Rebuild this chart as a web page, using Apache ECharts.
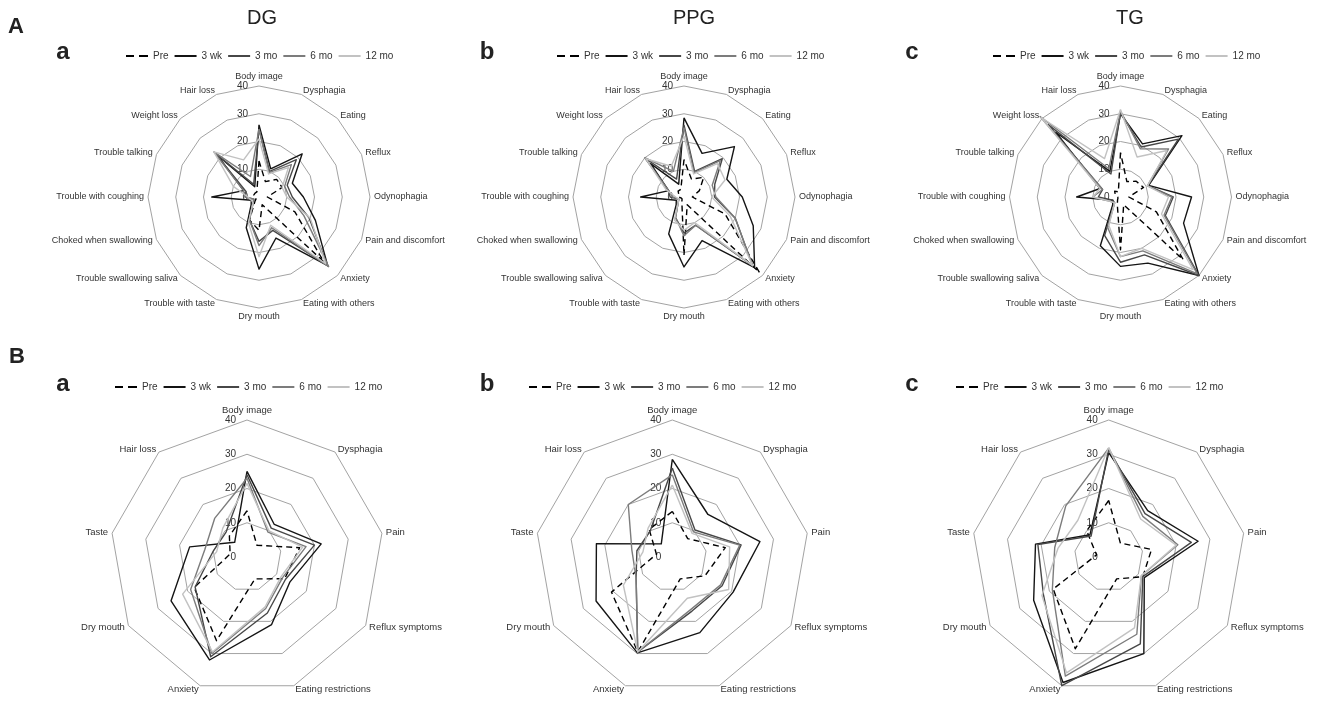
<!DOCTYPE html>
<html><head><meta charset="utf-8">
<script src="https://cdn.jsdelivr.net/npm/echarts@6/dist/echarts.min.js"></script>
<style>html,body{margin:0;padding:0;background:#fff}#c{width:1320px;height:701px}</style>
</head><body><div id="c"></div><script>
// ---------- categories / labels ----------
const seriesNames = ['Pre', '3 wk', '3 mo', '6 mo', '12 mo'];
const groupTitles = ['DG', 'PPG', 'TG'];
const panelLetters = ['a', 'b', 'c'];
const catsA = ['Body image','Dysphagia','Eating','Reflux','Odynophagia','Pain and discomfort','Anxiety','Eating with others','Dry mouth','Trouble with taste','Trouble swallowing saliva','Choked when swallowing','Trouble with coughing','Trouble talking','Weight loss','Hair loss'];
const catsB = ['Body image','Dysphagia','Pain','Reflux symptoms','Eating restrictions','Anxiety','Dry mouth','Taste','Hair loss'];
const tickLabels = ['0','10','20','30','40'];

// ---------- A (16 items), clockwise from top ----------
const A_DG_pre  = [13, 6, 9, 9, 3, 14, 33, 3, 12, 9, 2, 1, 1, 2, 2, 2];
const A_DG_3wk  = [26, 11, 22, 13, 16, 22, 35, 16, 26, 12, 4, 3, 17, 6, 21, 4];
const A_DG_3mo  = [24.5, 10, 19, 11, 12, 19.5, 35, 13, 16, 9, 3, 2, 5, 5, 22, 5];
const A_DG_6mo  = [24.5, 9.5, 16.5, 10, 11, 17.5, 35.5, 12, 17.5, 9, 3, 2, 5, 6, 23, 8];
const A_DG_12mo = [21, 9, 15, 9, 10, 20, 34, 11, 21.5, 10, 3, 3, 4, 10, 23, 14.5];

const A_PPG_pre  = [13.5, 7, 10, 6, 3, 16, 38.5, 3, 21, 2, 1, 1, 2, 2, 3, 3];
const A_PPG_3wk  = [28.5, 17, 25.7, 16.7, 21, 27, 36, 17, 25.2, 14.4, 4, 3, 15.6, 6, 17, 5];
const A_PPG_3mo  = [26, 10, 19.5, 12, 11, 20, 35, 11, 13, 8, 3, 2, 5, 6, 19.5, 7];
const A_PPG_6mo  = [25, 9.5, 18.5, 11, 11.5, 20, 35, 11, 14, 8, 3, 2, 4, 6, 20, 10];
const A_PPG_12mo = [22, 9, 17, 16, 10, 18, 35, 10, 12, 9, 3, 2, 3, 7, 19.5, 12];

const A_TG_pre  = [16, 6, 8, 9, 3, 14, 32, 3, 19, 3, 1.5, 1, 1, 2, 3, 2];
const A_TG_3wk  = [30, 20.7, 31.3, 11, 25.6, 24.6, 40, 25.8, 25, 19, 4, 3, 15.8, 8, 33, 10];
const A_TG_3mo  = [30.5, 19.5, 29.5, 10.7, 19, 17.5, 40, 22.6, 23.5, 15, 3, 3, 8, 7, 37, 9];
const A_TG_6mo  = [31, 18.8, 24.5, 10.5, 18.5, 17, 39, 21, 21.5, 12, 3, 4, 10, 7, 41, 11];
const A_TG_12mo = [31.5, 15.6, 23.7, 10.5, 17.3, 16, 37, 20, 21.5, 11, 3, 4, 10, 8, 40.5, 15];

// ---------- B (9 items), clockwise from top ----------
const B_DG_pre  = [13.5, 4.5, 15.6, 12.7, 6.8, 26, 17.8, 5, 8];
const B_DG_3wk  = [25, 12.4, 22, 14.5, 21, 32, 25.6, 17, 5.6];
const B_DG_3mo  = [24, 11, 20, 13, 17.4, 31, 17.5, 10, 9.5];
const B_DG_6mo  = [23, 9.5, 17.5, 12, 16, 30, 19, 12.5, 14.7];
const B_DG_12mo = [21.5, 10, 16.5, 11.5, 15.5, 29.5, 21.7, 9, 11];

const B_PPG_pre  = [13.3, 7, 15.7, 11, 6.8, 29.5, 20.5, 4.7, 10.5];
const B_PPG_3wk  = [28.5, 16.2, 26, 20.5, 23.5, 29.8, 25.7, 22.5, 5];
const B_PPG_3mo  = [26, 10.3, 20.4, 16.8, 16.8, 29.5, 12.2, 10.5, 10];
const B_PPG_6mo  = [24, 9.6, 20, 16.3, 16.2, 29.5, 12.2, 12, 20];
const B_PPG_12mo = [21, 9, 17, 19, 12.8, 29.5, 16.5, 8.7, 11];

const B_TG_pre  = [16.5, 5.3, 12.7, 11.5, 6.8, 28.5, 18.7, 3.6, 10];
const B_TG_3wk  = [30.5, 17.7, 26.5, 12, 30, 39, 25.3, 21.7, 8.5];
const B_TG_3mo  = [31.5, 16.5, 24.5, 11.5, 27, 40, 22, 21, 8];
const B_TG_6mo  = [31.8, 15.5, 20.5, 11, 24, 37, 19, 16, 19.5];
const B_TG_12mo = [32, 14.5, 20, 11, 22, 36, 22.5, 15, 14];

// ---------- assembly ----------
const panelsA = [
  [A_DG_pre, A_DG_3wk, A_DG_3mo, A_DG_6mo, A_DG_12mo],
  [A_PPG_pre, A_PPG_3wk, A_PPG_3mo, A_PPG_6mo, A_PPG_12mo],
  [A_TG_pre, A_TG_3wk, A_TG_3mo, A_TG_6mo, A_TG_12mo]
];
const panelsB = [
  [B_DG_pre, B_DG_3wk, B_DG_3mo, B_DG_6mo, B_DG_12mo],
  [B_PPG_pre, B_PPG_3wk, B_PPG_3mo, B_PPG_6mo, B_PPG_12mo],
  [B_TG_pre, B_TG_3wk, B_TG_3mo, B_TG_6mo, B_TG_12mo]
];

const FONT = '"Liberation Sans", Arial, Helvetica, sans-serif';
const lineColors = ['#000000', '#141414', '#474747', '#7c7c7c', '#c2c2c2'];
const lineTypes = [[6, 4], 'solid', 'solid', 'solid', 'solid'];
// ECharts lays indicators counter-clockwise; reorder to draw clockwise
function cw(arr) { return [arr[0]].concat(arr.slice(1).reverse()); }

const radarCentersA = [[259, 197], [684, 197], [1120.5, 197]];
const radarCentersB = [[247, 557], [672.3, 557], [1108.7, 557]];
const legendLeftA = [126, 557, 993];
const legendLeftB = [115, 529, 956];
const tickMax = Number(tickLabels[tickLabels.length - 1]);

function makeRadar(cats, center, radius, nameSize) {
  const ind = cw(cats).map((c, i) => {
    const o = { name: c, min: 0, max: tickMax };
    if (i === 0) {
      o.axisLabel = { show: true, color: '#333', fontSize: 10, fontFamily: FONT, margin: 11, showMinLabel: true, showMaxLabel: true };
    }
    return o;
  });
  return {
    center: center, radius: radius, shape: 'polygon', startAngle: 90,
    splitNumber: tickLabels.length - 1,
    indicator: ind,
    axisName: { color: '#333', fontSize: nameSize, fontFamily: FONT },
    nameGap: 4,
    axisLine: { show: false }, axisTick: { show: false },
    axisLabel: { show: false },
    splitArea: { show: false },
    splitLine: { lineStyle: { color: '#a3a3a3', width: 1 } }
  };
}

const radars = [], series = [], legends = [];
panelsA.forEach((p, i) => radars.push(makeRadar(catsA, radarCentersA[i], 111, 9)));
panelsB.forEach((p, i) => radars.push(makeRadar(catsB, radarCentersB[i], 137, 9.5)));
const allPanels = panelsA.concat(panelsB);
allPanels.forEach((p, ri) => {
  series.push({
    type: 'radar', radarIndex: ri, symbol: 'none', silent: true,
    data: p.map((vals, si) => ({
      name: seriesNames[si], value: cw(vals),
      itemStyle: { color: lineColors[si] },
      lineStyle: { color: lineColors[si], width: 1.4, type: lineTypes[si] }
    }))
  });
});
const iconSolid = 'path://M0,0h22v2h-22z';
const iconDash = 'path://M0,0h8v2h-8zM13,0h9v2h-9z';
function makeLegend(left, top) {
  return {
    left: left, top: top, itemWidth: 22, itemHeight: 2, itemGap: 6, padding: 0,
    selectedMode: false,
    textStyle: { color: '#333', fontSize: 10, fontFamily: FONT },
    itemStyle: { borderWidth: 0 },
    data: seriesNames.map((n, i) => ({ name: n, icon: i === 0 ? iconDash : iconSolid }))
  };
}
legendLeftA.forEach(l => legends.push(makeLegend(l, 51)));
legendLeftB.forEach(l => legends.push(makeLegend(l, 382)));

const graphics = [];
const titleX = [262, 694, 1130];
groupTitles.forEach((t, i) => graphics.push({ type: 'text', x: titleX[i], y: 18,
  style: { text: t, font: '20px ' + FONT, fill: '#222', align: 'center', verticalAlign: 'middle', textAlign: 'center', textVerticalAlign: 'middle' } }));
[['A', 16, 27], ['B', 17, 357]].forEach(d => graphics.push({ type: 'text', x: d[1], y: d[2],
  style: { text: d[0], font: 'bold 22px ' + FONT, fill: '#222', align: 'center', verticalAlign: 'middle', textAlign: 'center', textVerticalAlign: 'middle' } }));
const letterX = [63, 487, 912];
[52, 384].forEach(y => panelLetters.forEach((l, i) => graphics.push({ type: 'text', x: letterX[i], y: y,
  style: { text: l, font: 'bold 24px ' + FONT, fill: '#222', align: 'center', verticalAlign: 'middle', textAlign: 'center', textVerticalAlign: 'middle' } })));

const chart = echarts.init(document.getElementById('c'));
chart.setOption({
  backgroundColor: '#fff',
  animation: false,
  legend: legends,
  radar: radars,
  series: series,
  graphic: graphics
});
</script></body></html>
